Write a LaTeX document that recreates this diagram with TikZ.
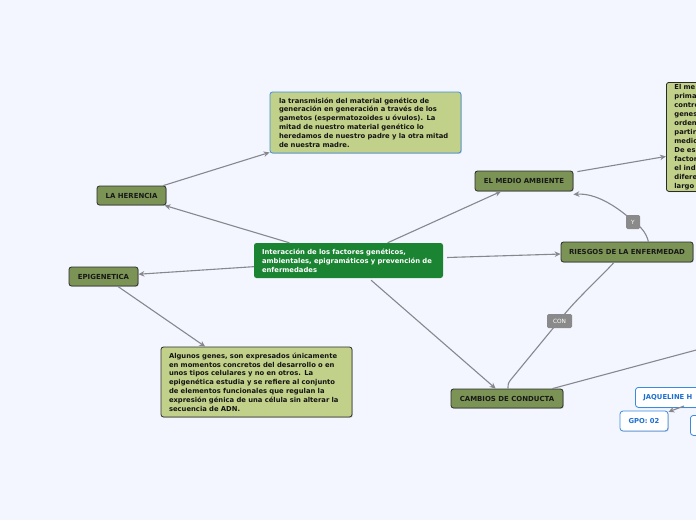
\documentclass[tikz,border=0pt]{standalone}
\usepackage{fontspec}
\setmainfont{DejaVu Sans}
\usetikzlibrary{arrows.meta,shadows,calc}
\definecolor{bgc}{HTML}{F3F6FE}
\definecolor{olive}{HTML}{7B9455}
\definecolor{khaki}{HTML}{C2D18A}
\definecolor{maing}{HTML}{1B8433}
\definecolor{linec}{HTML}{87878F}
\definecolor{bordc}{HTML}{2B2B2B}
\definecolor{blueb}{HTML}{3A8BE0}
\definecolor{bluet}{HTML}{1F6FD0}
\definecolor{lblc}{HTML}{8A8A8A}
\tikzset{
  shd/.style={drop shadow={shadow xshift=0.8pt,shadow yshift=-0.8pt,opacity=0.35}},
  topic/.style={draw=bordc,line width=0.8pt,fill=olive,rounded corners=2.5pt,shd,
    font=\fontsize{6.95}{8}\selectfont\bfseries,text=black!90,inner sep=0pt,anchor=center},
  txtbox/.style={draw=bordc,line width=0.8pt,fill=khaki,rounded corners=2.5pt,shd,
    font=\fontsize{6.8}{8.8}\selectfont\bfseries,text=black!92,align=left,inner sep=0pt,anchor=center},
  mainbox/.style={fill=maing,rounded corners=2.5pt,
    font=\fontsize{6.8}{8.9}\selectfont\bfseries,text=white,align=left,inner sep=0pt,anchor=center},
  lbl/.style={fill=lblc,rounded corners=1.5pt,text=white,font=\fontsize{5.8}{6}\selectfont,
    inner sep=0pt,minimum height=14pt},
  namebox/.style={draw=blueb,line width=0.8pt,fill=white,rounded corners=3pt,shd,
    font=\fontsize{6.8}{8}\selectfont\bfseries,text=bluet,inner sep=0pt},
  conn/.style={draw=linec,line width=1.1pt,-{Stealth[length=6pt,width=5.5pt]}},
  plain/.style={draw=linec,line width=1.1pt},
}
\begin{document}
\begin{tikzpicture}[x=1pt,y=-1pt]
\fill[bgc] (0,0) rectangle (696,520);
\useasboundingbox (0,0) rectangle (696,520);
\clip (0,0) rectangle (696,520);

% central node
\node[mainbox,minimum width=189pt,minimum height=35pt,text width=173pt] (c) at (348.5,260.5)
  {Interacción de los factores genéticos,\\ambientales, epigramáticos y prevención de\\enfermedades};

% topics
\node[topic,minimum width=69pt,minimum height=19pt] (h) at (131.5,195.5) {LA HERENCIA};
\node[topic,minimum width=69pt,minimum height=19pt] (e) at (103.5,276.5) {EPIGENETICA};
\node[topic,minimum width=98pt,minimum height=20pt] (m) at (524,181) {EL MEDIO AMBIENTE};
\node[topic,minimum width=132pt,minimum height=20pt] (r) at (627,252) {RIESGOS DE LA ENFERMEDAD};
\node[topic,minimum width=112pt,minimum height=19pt] (cam) at (507,398.5) {CAMBIOS DE CONDUCTA};

% text boxes
\node[txtbox,draw=blueb,minimum width=191pt,minimum height=61pt,text width=173pt] (t) at (365.5,122.5)
  {la transmisión del material genético de\\generación en generación a través de los\\gametos (espermatozoides u óvulos). La\\mitad de nuestro material genético lo\\heredamos de nuestro padre y la otra mitad\\de nuestra madre.};
\node[txtbox,minimum width=191pt,minimum height=70pt,text width=175pt] (a) at (256.5,382)
  {Algunos genes, son expresados únicamente\\en momentos concretos del desarrollo o en\\unos tipos celulares y no en otros. La\\epigenética estudia y se refiere al conjunto\\de elementos funcionales que regulan la\\expresión génica de una célula sin alterar la\\secuencia de ADN.};
\node[txtbox,minimum width=80pt,minimum height=109pt,text width=64pt,anchor=north west,
  font=\fontsize{6.8}{9}\selectfont\bfseries] (el) at (666,82)
  {El me\\prima\\contro\\genes\\orden\\partir\\medio\\De es\\factor\\el ind\\difere\\largo};

% name boxes
\node[namebox,minimum width=110pt,minimum height=20pt,anchor=north west,text width=94pt,align=left] (j) at (635,387) {JAQUELINE H};
\node[namebox,minimum width=48pt,minimum height=20pt] (g) at (644,421) {GPO: 02};
\node[namebox,minimum width=40pt,minimum height=20pt,anchor=north west] (x) at (690,415) {};

\coordinate (off1) at (700,349);
\coordinate (off2) at (684,406);

% connectors
\draw[conn] (c) -- (h);
\draw[conn] (h) -- (t);
\draw[conn] (c) -- (e);
\draw[conn] (e) -- (a);
\draw[conn] (c) -- (m);
\draw[conn] ([xshift=4pt,yshift=-1pt]m.north east) -- ([yshift=-19.5pt]el.west);
\draw[conn,shorten <=4pt] (c) -- (r);
\draw[conn,shorten <=3pt] (c) -- (cam);
\draw[conn] ([xshift=-45pt]r.north east) .. controls (646,232) and (640,226) .. (633,221)
  .. controls (615,205) and (595,193) .. ([yshift=-3pt]m.south east);
\node[lbl,minimum width=14pt] (ly) at (633,222) {Y};
\draw[plain] ([xshift=-13pt]r.south) .. controls (598,280) and (575,300) .. (559,321)
  -- (513,377) .. controls (508,383) .. ([xshift=1pt]cam.north);
\node[lbl,minimum width=25pt] (lc) at (559.5,321) {CON};
\draw[plain] ([xshift=-11pt]cam.north east) -- (off1);
\draw[conn] (off2) -- (g);
\end{tikzpicture}
\end{document}
